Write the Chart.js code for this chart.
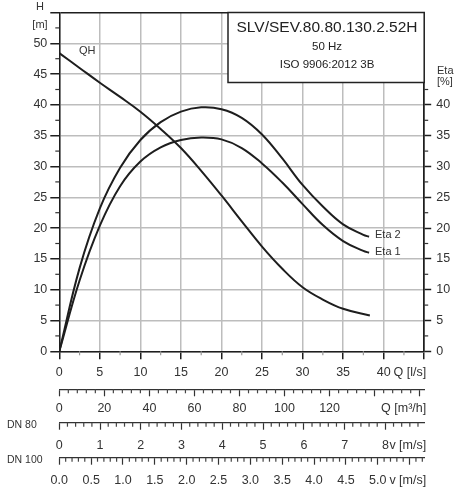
<!DOCTYPE html>
<html>
<head>
<meta charset="utf-8">
<script src="https://cdn.jsdelivr.net/npm/chart.js@4.4.0/dist/chart.umd.min.js"></script>
<style>
  html, body { margin: 0; padding: 0; background: #fff; }
  #wrap { width: 455px; height: 491px; position: relative; }
</style>
</head>
<body>
<div id="wrap"><canvas id="pumpChart"></canvas></div>
<script>
// QH curve: flow in l/s, head in m
var flowQH = [0, 2.5, 5, 7.5, 10, 12.5, 15, 17.5, 20, 22.5, 25, 27.5, 30, 32.5, 35, 38.3];
var headQH = [48.4, 46.0, 43.6, 41.3, 38.9, 36.1, 33.0, 29.3, 25.3, 21.1, 17.0, 13.4, 10.4, 8.4, 6.9, 5.8];

// efficiency curves in %
var flowEta = [0, 2.5, 5, 7.5, 10, 12.5, 15, 17.5, 20, 22.5, 25, 27.5, 30, 32.5, 35, 37.5, 38.2];
var eta1 = [0, 11.5, 20.4, 26.8, 30.8, 33.1, 34.3, 34.7, 34.4, 33.0, 30.5, 27.4, 23.9, 20.5, 17.9, 16.3, 16.0];
var eta2 = [0, 13.5, 23.2, 29.8, 34.3, 37.2, 38.9, 39.6, 39.3, 37.9, 35.2, 31.3, 27.0, 23.5, 20.6, 18.9, 18.6];

// tick values
var qLsTicks = [0, 5, 10, 15, 20, 25, 30, 35, 40, 45];
var headTicks = [0, 5, 10, 15, 20, 25, 30, 35, 40, 45, 50, 55];
var etaTicks = [0, 5, 10, 15, 20, 25, 30, 35, 40, 45, 50, 55];
var qM3hTicks = [0, 20, 40, 60, 80, 100, 120, 140, 160];
var vDn80Ticks = [0, 1, 2, 3, 4, 5, 6, 7, 8];
var vDn100Ticks = [0, 0.5, 1, 1.5, 2, 2.5, 3, 3.5, 4, 4.5, 5, 5.5];

var qMax = 45;
var m3hMax = qMax * 3.6;
var v80Max = qMax / 1000 / (Math.PI * 0.04 * 0.04);
var v100Max = qMax / 1000 / (Math.PI * 0.05 * 0.05);

var FONT = 'Liberation Sans, Arial, sans-serif';
var TXT = '#333';
var GRID = '#bdbdbd';

function pts(xs, ys) {
  return xs.map(function (x, i) { return { x: x, y: ys[i] }; });
}
function setTicks(list) {
  return function (s) { s.ticks = list.map(function (v) { return { value: v }; }); };
}

// short unlabeled ticks between the major ones
var minorSpec = [
  { id: 'x', step: 2.5, major: 5, len: 4, color: '#999', side: 'bottom' },
  { id: 'y', step: 2.5, major: 5, len: 4, color: '#333', side: 'left', max: 52.5 },
  { id: 'y2', step: 2.5, major: 5, len: 4, color: '#333', side: 'right', max: 42.5 },
  { id: 'xm3', step: 4, major: 20, len: 4, color: '#444', side: 'bottom' },
  { id: 'v80', step: 0.2, major: 1, len: 4, color: '#444', side: 'bottom' },
  { id: 'v100', step: 0.1, major: 0.5, len: 4, color: '#444', side: 'bottom' }
];

var minorTicks = {
  id: 'minorTicks',
  afterDraw: function (chart) {
    var c = chart.ctx;
    c.save();
    c.lineWidth = 1.2;
    minorSpec.forEach(function (m) {
      var s = chart.scales[m.id];
      var top = m.max !== undefined ? m.max : s.max;
      c.strokeStyle = m.color;
      for (var i = 1; i * m.step <= top + 1e-9; i++) {
        var v = i * m.step;
        var r = v / m.major;
        if (Math.abs(r - Math.round(r)) < 1e-6) continue;
        var p = s.getPixelForValue(v);
        c.beginPath();
        if (m.side === 'bottom') { c.moveTo(p, s.top); c.lineTo(p, s.top + m.len); }
        else if (m.side === 'left') { c.moveTo(s.right, p); c.lineTo(s.right - m.len, p); }
        else { c.moveTo(s.left, p); c.lineTo(s.left + m.len, p); }
        c.stroke();
      }
    });
    c.restore();
  }
};

var extras = {
  id: 'extras',
  afterDraw: function (chart) {
    var c = chart.ctx, a = chart.chartArea, s = chart.scales;
    c.save();
    // title box
    c.fillStyle = '#fff';
    c.fillRect(228, a.top, a.right - 228, 70);
    c.strokeStyle = '#222';
    c.lineWidth = 1.5;
    c.strokeRect(228, a.top, a.right - 228, 70);
    c.fillStyle = '#222';
    c.textAlign = 'center';
    c.textBaseline = 'middle';
    c.font = '15.5px ' + FONT;
    c.fillText('SLV/SEV.80.80.130.2.52H', 327, 28);
    c.font = '11.5px ' + FONT;
    c.fillText('50 Hz', 327, 47);
    c.fillText('ISO 9906:2012 3B', 327, 65);

    c.fillStyle = TXT;
    c.font = '11px ' + FONT;
    c.fillText('H', 40, 7);
    c.fillText('[m]', 40, 25);
    c.textAlign = 'left';
    c.fillText('Eta', 437, 71);
    c.fillText('[%]', 437, 82);
    c.fillText('QH', 79, 51);
    c.fillText('Eta 2', 375, 235);
    c.fillText('Eta 1', 375, 252);
    c.font = '10.5px ' + FONT;
    c.fillText('DN 80', 7, 425);
    c.fillText('DN 100', 7, 460);

    // unit labels at the end of the bottom axes
    c.textAlign = 'right';
    c.font = '12.5px ' + FONT;
    [['x', 'Q [l/s]'], ['xm3', 'Q [m\u00b3/h]'], ['v80', 'v [m/s]'], ['v100', 'v [m/s]']].forEach(function (u) {
      var sc = s[u[0]];
      var y = sc.top + sc.options.grid.tickLength + sc.options.ticks.padding + 7.5;
      c.fillText(u[1], a.right + 2, y);
    });
    c.restore();
  }
};

function bottomAxis(min, max, ticks, weight, h, pad, label) {
  return {
    type: 'linear', position: 'bottom', weight: weight, min: min, max: max,
    afterBuildTicks: setTicks(ticks),
    afterFit: function (s) { s.height = h; },
    ticks: { autoSkip: false, maxRotation: 0, padding: pad, color: TXT, font: { size: 12.5, family: FONT }, callback: label },
    grid: { drawOnChartArea: false, tickLength: 7, tickColor: '#333', tickWidth: 1.2 },
    border: { color: '#333', width: 1.2 }
  };
}

new Chart(document.getElementById('pumpChart'), {
  type: 'line',
  data: {
    datasets: [
      { label: 'QH', data: pts(flowQH, headQH), xAxisID: 'x', yAxisID: 'y' },
      { label: 'Eta 1', data: pts(flowEta, eta1), xAxisID: 'x', yAxisID: 'y2' },
      { label: 'Eta 2', data: pts(flowEta, eta2), xAxisID: 'x', yAxisID: 'y2' }
    ]
  },
  options: {
    responsive: true,
    maintainAspectRatio: false,
    devicePixelRatio: 1,
    animation: false,
    layout: { padding: { top: 10, left: 0, right: 0, bottom: 0 } },
    elements: {
      line: { borderColor: '#1e1e1e', borderWidth: 2, tension: 0.4, fill: false },
      point: { radius: 0 }
    },
    plugins: { legend: { display: false }, tooltip: { enabled: false } },
    scales: {
      x: {
        type: 'linear', position: 'bottom', weight: 0, min: 0, max: qMax,
        afterBuildTicks: setTicks(qLsTicks),
        afterFit: function (s) { s.height = 38; },
        ticks: {
          autoSkip: false, maxRotation: 0, padding: 6, color: TXT, font: { size: 12.5, family: FONT },
          callback: function (v) { return v <= 40 ? v : ''; }
        },
        grid: {
          color: function (ctx) { return ctx.tick && ctx.tick.value === qMax ? '#1e1e1e' : GRID; },
          lineWidth: 1.5, tickLength: 8, tickColor: '#1e1e1e', tickWidth: 1.5
        },
        border: { color: '#1e1e1e', width: 1.5 }
      },
      xm3: bottomAxis(0, m3hMax, qM3hTicks, 1, 33.4, 5, function (v) { return v <= 120 ? v : ''; }),
      v80: bottomAxis(0, v80Max, vDn80Ticks, 2, 35, 8, function (v) { return v; }),
      v100: bottomAxis(0, v100Max, vDn100Ticks, 3, 33.3, 8.5, function (v) { return v <= 5 ? v.toFixed(1) : ''; }),
      y: {
        type: 'linear', position: 'left', min: 0, max: 55,
        afterBuildTicks: setTicks(headTicks),
        afterFit: function (s) { s.width = 59.3; },
        ticks: {
          padding: 3, color: TXT, font: { size: 12.5, family: FONT },
          callback: function (v) { return v <= 50 ? v : ''; }
        },
        grid: {
          color: function (ctx) { return ctx.tick && ctx.tick.value === 55 ? '#1e1e1e' : GRID; },
          lineWidth: 1.5, tickLength: 9, tickColor: '#1e1e1e', tickWidth: 1.5
        },
        border: { color: '#1e1e1e', width: 1.5 }
      },
      y2: {
        type: 'linear', position: 'right', min: 0, max: 55,
        afterBuildTicks: setTicks(etaTicks),
        afterFit: function (s) { s.width = 30.8; },
        ticks: {
          padding: 5, color: TXT, font: { size: 12.5, family: FONT },
          callback: function (v) { return v <= 40 ? v : ''; }
        },
        grid: {
          drawOnChartArea: false, tickLength: 7, tickWidth: 1.5,
          tickColor: function (ctx) { return ctx.tick && ctx.tick.value > 40 ? 'rgba(0,0,0,0)' : '#1e1e1e'; }
        },
        border: { color: '#1e1e1e', width: 1.5 }
      }
    }
  },
  plugins: [minorTicks, extras]
});
</script>
</body>
</html>
